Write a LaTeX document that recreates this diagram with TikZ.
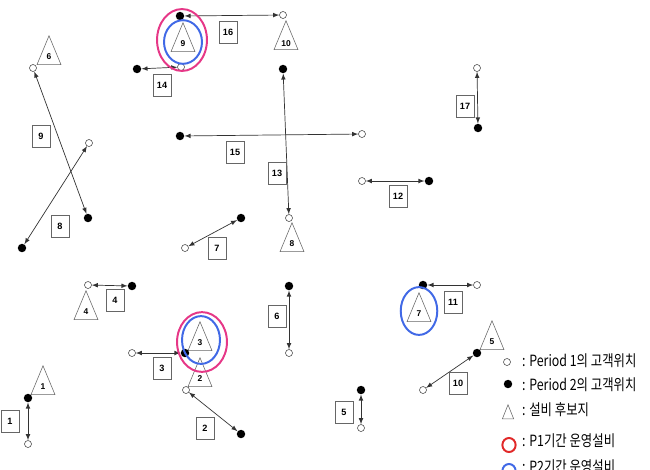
\documentclass[tikz,border=0pt]{standalone}
\usepackage{fontspec}
\setmainfont{Liberation Sans}
\newfontfamily\krfont{Noto Sans CJK KR}
\usetikzlibrary{shapes.geometric, arrows}
\definecolor{ringpink}{RGB}{230,55,135}
\definecolor{ringblue}{RGB}{65,105,230}
\definecolor{ringred}{RGB}{225,40,40}

\begin{document}
\begin{tikzpicture}[x=0.025cm, y=-0.025cm,
    cust1/.style={circle, draw=black!70, fill=white, inner sep=0pt, minimum size=5pt},
    cust2/.style={circle, fill=black, inner sep=0pt, minimum size=6pt},
    site/.style={isosceles triangle, shape border rotate=90, isosceles triangle apex angle=45, isosceles triangle stretches, draw=black!60, inner sep=0pt, minimum height=20.5pt, minimum width=17pt, font=\fontsize{6}{6}\selectfont\bfseries, anchor=apex},
    tag/.style={draw=black!60, fill=white, minimum width=13pt, minimum height=15.5pt, inner sep=0pt, font=\fontsize{6.5}{7}\selectfont\bfseries},
    move/.style={latex-latex, draw=black!80, line width=0.5pt},
    ringone/.style={ellipse, draw=ringpink, line width=1.4pt, inner sep=0pt},
    ringtwo/.style={ellipse, draw=ringblue, line width=1.4pt, inner sep=0pt},
    legend/.style={anchor=west, inner sep=0pt, font=\krfont\fontsize{11}{13}\selectfont, xscale=0.8, transform shape}]
  \useasboundingbox (0,0) rectangle (650,469);

  % facility sites
  \node[site] (f1) at (43,365) {1};
  \node[site] (f2) at (200,357) {2};
  \node[site] (f3) at (200,321) {3};
  \node[site] (f4) at (86,290) {4};
  \node[site] (f5) at (492,320) {5};
  \node[site] (f6) at (49,35) {6};
  \node[site] (f7) at (419,292) {7};
  \node[site] (f8) at (292,222) {8};
  \node[site] (f9) at (183,22) {9};
  \node[site] (f10) at (286,20) {10};

  % customers, period 1 (a) and period 2 (b)
  \node[cust2] (b1) at (28,398) {};   \node[cust1] (a1) at (28,444) {};
  \node[cust1] (a2) at (186,390) {};  \node[cust2] (b2) at (241,434) {};
  \node[cust1] (a3) at (132,353) {};  \node[cust2] (b3) at (185,353) {};
  \node[cust1] (a4) at (88,285) {};   \node[cust2] (b4) at (132,286) {};
  \node[cust2] (b5) at (361,390) {};  \node[cust1] (a5) at (361,428) {};
  \node[cust2] (b6) at (289,286) {};  \node[cust1] (a6) at (289,353) {};
  \node[cust1] (a7) at (185,248) {};  \node[cust2] (b7) at (241,218) {};
  \node[cust1] (a8) at (89,143) {};   \node[cust2] (b8) at (22,248) {};
  \node[cust1] (a9) at (33,68) {};    \node[cust2] (b9) at (88,218) {};
  \node[cust1] (a10) at (423,390) {}; \node[cust2] (b10) at (477,353) {};
  \node[cust2] (b11) at (423,285) {}; \node[cust1] (a11) at (477,285) {};
  \node[cust1] (a12) at (362,181) {}; \node[cust2] (b12) at (429,181) {};
  \node[cust2] (b13) at (283,69) {};  \node[cust1] (a13) at (289,218) {};
  \node[cust2] (b14) at (137,69) {};  \node[cust1] (a14) at (181,67) {};
  \node[cust2] (b15) at (180,136) {}; \node[cust1] (a15) at (362,134) {};
  \node[cust2] (b16) at (180,16) {};  \node[cust1] (a16) at (283,15) {};
  \node[cust1] (a17) at (477,68) {};  \node[cust2] (b17) at (478,128) {};

  % moves between periods
  \draw[move] (a1) -- (b1);
  \draw[move] (a2) -- (b2);
  \draw[move] (a3) -- (b3);
  \draw[move] (a4) -- (b4);
  \draw[move] (a5) -- (b5);
  \draw[move] (a6) -- (b6);
  \draw[move] (a7) -- (b7);
  \draw[move] (a8) -- (b8);
  \draw[move] (a9) -- (b9);
  \draw[move] (a10) -- (b10);
  \draw[move] (a11) -- (b11);
  \draw[move] (a12) -- (b12);
  \draw[move] (a13) -- (b13);
  \draw[move] (a14) -- (b14);
  \draw[move] (a15) -- (b15);
  \draw[move] (a16) -- (b16);
  \draw[move] (a17) -- (b17);

  % customer numbers
  \node[tag] (n1) at (10,421) {1};
  \node[tag] (n2) at (205,428) {2};
  \node[tag] (n3) at (162,368) {3};
  \node[tag] (n4) at (115,300) {4};
  \node[tag] (n5) at (344,412) {5};
  \node[tag] (n6) at (277,316) {6};
  \node[tag] (n7) at (217,248) {7};
  \node[tag] (n8) at (60,226) {8};
  \node[tag] (n9) at (41,136) {9};
  \node[tag] (n10) at (458,383) {10};
  \node[tag] (n11) at (453,302) {11};
  \node[tag] (n12) at (398,196) {12};
  \node[tag] (n13) at (277,173) {13};
  \node[tag] (n14) at (162,85) {14};
  \node[tag] (n15) at (235,152) {15};
  \node[tag] (n16) at (228,32) {16};
  \node[tag] (n17) at (465,106) {17};

  % open facilities
  \node[ringone, minimum width=35.5pt, minimum height=44pt] (r9p1) at (182,40) {};
  \node[ringtwo, minimum width=27pt, minimum height=31pt] (r9p2) at (183,42) {};
  \node[ringone, minimum width=35.5pt, minimum height=42.5pt] (r3p1) at (202,342) {};
  \node[ringtwo, minimum width=27pt, minimum height=34pt] (r3p2) at (201,340) {};
  \node[ringtwo, minimum width=26pt, minimum height=34pt] (r7p2) at (419,311) {};

  % legend
  \node[cust1] (k1) at (507,362) {};
  \node[cust2] (k2) at (508,384) {};
  \node[site, minimum height=10pt, minimum width=8pt] (k3) at (508,404) {};
  \node[ellipse, draw=ringred, line width=1.4pt, minimum width=8pt, minimum height=10pt] (k4) at (509,445) {};
  \node[ellipse, draw=ringblue, line width=1.4pt, minimum width=8pt, minimum height=10pt] (k5) at (509,471) {};
  \node[legend] (t1) at (522,361) {: Period 1의 고객위치};
  \node[legend] (t2) at (522,385) {: Period 2의 고객위치};
  \node[legend] (t3) at (522,410) {: 설비 후보지};
  \node[legend] (t4) at (522,441) {: P1기간 운영설비};
  \node[legend] (t5) at (522,467) {: P2기간 운영설비};
\end{tikzpicture}
\end{document}
